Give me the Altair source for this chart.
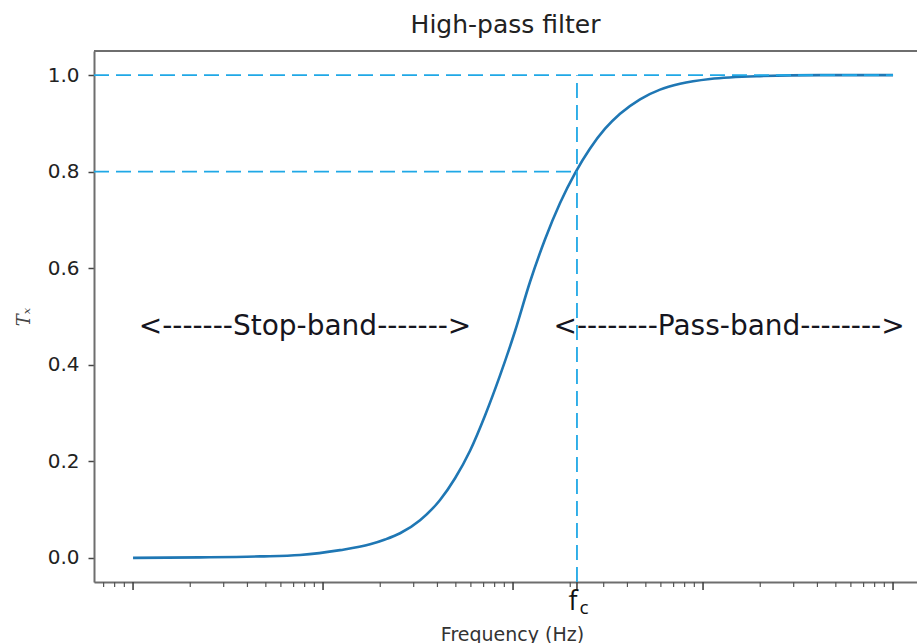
import altair as alt
import pandas as pd

# ---- data ----
freq = [1, 2.253, 4.661, 7.566, 12.29, 17.68, 21.20, 25.43, 32.40, 41.28, 49.52, 59.39, 71.23,
        85.43, 102.5, 122.9, 147.4, 176.8, 212.1, 254.3, 305.0, 365.8, 466.1, 593.9,
        756.8, 1088, 1995, 4128, 10000]
trans = [0.000, 0.001, 0.003, 0.006, 0.016, 0.028, 0.038, 0.051, 0.078, 0.120, 0.165, 0.222, 0.295,
         0.378, 0.470, 0.572, 0.660, 0.735, 0.797, 0.848, 0.889, 0.920, 0.950, 0.970,
         0.982, 0.992, 0.998, 1.000, 1.000]

fc = 217.0
x_min, x_max = 0.623, 13370
y_min, y_max = -0.05, 1.05

y_ticks = [0.0, 0.2, 0.4, 0.6, 0.8, 1.0]
major_ticks = [1, 10, 100, 1000, 10000]
minor_ticks = [0.7, 0.8, 0.9,
               2, 3, 4, 5, 6, 7, 8, 9,
               20, 30, 40, 50, 60, 70, 80, 90,
               200, 300, 400, 500, 600, 700, 800, 900,
               2000, 3000, 4000, 5000, 6000, 7000, 8000, 9000]

hline_y = [1.0, 0.8]
hline_x0 = [x_min, x_min]
hline_x1 = [10000, fc]

band_labels = ["<-------Stop-band------->", "<--------Pass-band-------->"]
band_x = [8.04, 1371]
band_y = [0.478, 0.478]

title_text = "High-pass filter"

W, H = 823, 531
line_blue = "#1f77b4"
ref_blue = "#1fa8e6"
spine = "#6e6e6e"

xs = alt.Scale(type="log", domain=[x_min, x_max], nice=False)
ys = alt.Scale(domain=[y_min, y_max], nice=False, zero=False)

curve_df = pd.DataFrame({"f": freq, "T": trans})

curve = alt.Chart(curve_df).mark_line(color=line_blue, strokeWidth=2.6, interpolate="monotone").encode(
    x=alt.X("f:Q", scale=xs, axis=alt.Axis(
        ticks=False, labels=False, grid=False, domainColor=spine, domainWidth=2,
        title="Frequency (Hz)", titleFont="DejaVu Sans", titleFontSize=19,
        titleFontWeight="normal", titleColor="#333333", titleX=418, titleY=52,
        titleBaseline="middle")),
    y=alt.Y("T:Q", scale=ys, axis=alt.Axis(
        values=y_ticks, format=".1f", grid=False, labelFont="DejaVu Sans",
        labelFontSize=20, labelColor="#222222", labelPadding=9, tickSize=6,
        tickColor="#444444", tickWidth=1.5, domainColor=spine, domainWidth=2,
        title="Tₓ", titleFont="DejaVu Serif", titleFontStyle="italic",
        titleFontSize=18, titleFontWeight="normal", titleColor="#444444",
        titlePadding=14)),
)

h_df = pd.DataFrame({"y": hline_y, "x0": hline_x0, "x1": hline_x1})
hlines = alt.Chart(h_df).mark_rule(color=ref_blue, strokeWidth=1.8, strokeDash=[15, 7]).encode(
    x=alt.X("x0:Q", scale=xs),
    x2="x1:Q",
    y=alt.Y("y:Q", scale=ys),
)

v_df = pd.DataFrame({"x": [fc], "y0": [y_min], "y1": [1.0]})
vline = alt.Chart(v_df).mark_rule(color=ref_blue, strokeWidth=1.8, strokeDash=[15, 7]).encode(
    x=alt.X("x:Q", scale=xs),
    y=alt.Y("y0:Q", scale=ys),
    y2="y1:Q",
)

major_df = pd.DataFrame({"x": major_ticks + [fc]})
major = alt.Chart(major_df).mark_rule(color="#444444", strokeWidth=1.6).encode(
    x=alt.X("x:Q", scale=xs),
    y=alt.value(H),
    y2=alt.value(H + 8),
)

minor_df = pd.DataFrame({"x": minor_ticks})
minor = alt.Chart(minor_df).mark_rule(color="#555555", strokeWidth=1.2).encode(
    x=alt.X("x:Q", scale=xs),
    y=alt.value(H),
    y2=alt.value(H + 5),
)

top_spine = alt.Chart(pd.DataFrame({"a": [0]})).mark_rule(color=spine, strokeWidth=2).encode(
    x=alt.value(0), x2=alt.value(W), y=alt.value(0),
)

title_mark = alt.Chart(pd.DataFrame({"t": [title_text]})).mark_text(
    font="DejaVu Sans", fontSize=25, color="#222222", align="center", baseline="alphabetic"
).encode(x=alt.value(W / 2), y=alt.value(-18), text="t:N")

band_df = pd.DataFrame({"label": band_labels, "x": band_x, "y": band_y})
bands = alt.Chart(band_df).mark_text(font="DejaVu Sans", fontSize=28, color="#151520",
                                     align="center", baseline="middle").encode(
    x=alt.X("x:Q", scale=xs),
    y=alt.Y("y:Q", scale=ys),
    text="label:N",
)

fc_df = pd.DataFrame({"x": [fc], "f": ["f"], "c": ["c"]})
fc_f = alt.Chart(fc_df).mark_text(font="Open Sans", fontSize=27, color="#111111",
                                  align="center", baseline="alphabetic", dx=-4).encode(
    x=alt.X("x:Q", scale=xs),
    y=alt.value(H + 28),
    text="f:N",
)
fc_c = alt.Chart(fc_df).mark_text(font="Open Sans", fontSize=19, color="#111111",
                                  align="center", baseline="alphabetic", dx=7).encode(
    x=alt.X("x:Q", scale=xs),
    y=alt.value(H + 32),
    text="c:N",
)

chart = alt.layer(curve, hlines, vline, major, minor, top_spine, title_mark, bands, fc_f, fc_c).properties(
    width=W, height=H,
    autosize=alt.AutoSizeParams(type="none"),
    padding={"left": 94, "top": 51, "right": 0, "bottom": 61},
).configure_view(stroke=None).configure(background="white")

chart.save("out.html", embed_options={"renderer": "svg", "actions": False})
